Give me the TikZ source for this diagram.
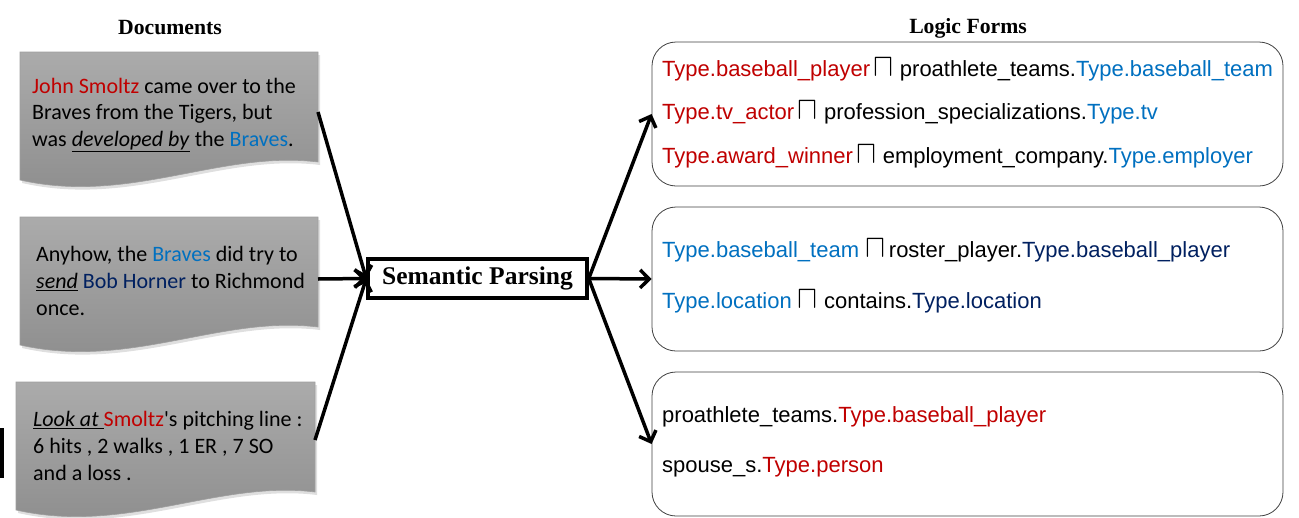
\documentclass[tikz,border=0pt]{standalone}
\usepackage{fontspec}
\usepackage{graphicx}
\setmainfont{Liberation Serif}
\newfontfamily\calfont{Carlito}
\newfontfamily\arifont{Liberation Sans}
\usetikzlibrary{arrows.meta,shadows}
\definecolor{tred}{HTML}{C00000}
\definecolor{tblue}{HTML}{0070C0}
\definecolor{tnavy}{HTML}{002060}
\definecolor{docTop}{HTML}{ABABAB}
\definecolor{docBot}{HTML}{8C8C8C}
\definecolor{frame}{HTML}{404040}

% document outline with a wavy lower edge: left x, right x, top y
\newcommand\docpath[3]{%
  \path[docbox] (#1,#3) -- (#2,#3) -- ({#2},{#3+110})
    .. controls ({#2-98},{#3+98}) and ({#1+110},{#3+153}) .. ({#1},{#3+128}) -- cycle;}
% intersection sign used in the logic forms
\newcommand\meet{\raisebox{0.5pt}{\scalebox{1.45}[1.55]{$\sqcap$}}}

\begin{document}
\begin{tikzpicture}[x=1pt,y=-1pt,
  title/.style={font=\fontsize{21.7}{26}\selectfont\bfseries, inner sep=0},
  doctext/.style={font=\calfont\fontsize{22}{26.6}\selectfont, align=left, anchor=west, inner sep=0},
  docbox/.style={top color=docTop, bottom color=docBot, draw=gray!75, line width=0.6pt,
    drop shadow={opacity=0.25, shadow xshift=2pt, shadow yshift=-3pt}},
  lfbox/.style={draw=frame, line width=0.8pt, rounded corners=24pt, fill=white,
    minimum width=631pt, minimum height=144pt, inner sep=0},
  lftext/.style={font=\arifont\fontsize{22}{26}\selectfont, anchor=west, inner sep=0},
  parse/.style={draw, line width=3.5pt, fill=white, minimum width=219pt, minimum height=39pt,
    inner sep=0, font=\fontsize{25.5}{30}\selectfont\bfseries},
  arr/.style={line width=3.5pt, -{Straight Barb[length=9pt,width=18pt]}}
]
\useasboundingbox (0,0) rectangle (1299,517);

% column headings
\node[title] (hdoc) at (170,28) {Documents};
\node[title] (hlf) at (968,28) {Logic Forms};

% small black bar on the left edge
\fill (0,428) rectangle (4,478);

% input documents
\docpath{20}{318}{52}
\docpath{20}{318}{217}
\docpath{16}{315}{382}

\node[doctext] (d1) at (32,115) {\textcolor{tred}{John Smoltz} came over to the\\
  Braves from the Tigers, but\\
  was \underline{\textit{developed by}} the \textcolor{tblue}{Braves}.};
\node[doctext] (d2) at (36,281) {Anyhow, the \textcolor{tblue}{Braves} did try to\\
  \underline{\textit{send}} \textcolor{tnavy}{Bob Horner} to Richmond\\
  once.};
\node[doctext] (d3) at (33,446) {\underline{\textit{Look at }}\textcolor{tred}{Smoltz}'s pitching line :\\
  6 hits , 2 walks , 1 ER , 7 SO\\
  and a loss .};

\coordinate (d1r) at (318,112);
\coordinate (d2r) at (318,279);
\coordinate (d3r) at (315,440);

% parser
\node[parse] (sp) at (477.5,278.5) {Semantic Parsing};

% logic form groups
\node[lfbox] (l1) at (967.5,114) {};
\node[lfbox] (l2) at (967.5,279) {};
\node[lfbox] (l3) at (967.5,444) {};

\node[lftext] (t11) at (662,70) {\textcolor{tred}{Type.baseball\_player}\,\meet\ proathlete\_teams.\textcolor{tblue}{Type.baseball\_team}};
\node[lftext] (t12) at (662,113) {\textcolor{tred}{Type.tv\_actor}\,\meet\ profession\_specializations.\textcolor{tblue}{Type.tv}};
\node[lftext] (t13) at (662,157) {\textcolor{tred}{Type.award\_winner}\,\meet\ employment\_company.\textcolor{tblue}{Type.employer}};

\node[lftext] (t21) at (662,251) {\textcolor{tblue}{Type.baseball\_team} \meet\,roster\_player.\textcolor{tnavy}{Type.baseball\_player}};
\node[lftext] (t22) at (662,302) {\textcolor{tblue}{Type.location} \meet\ contains.\textcolor{tnavy}{Type.location}};

\node[lftext] (t31) at (662,417) {proathlete\_teams.\textcolor{tred}{Type.baseball\_player}};
\node[lftext] (t32) at (662,467) {spouse\_s.\textcolor{tred}{Type.person}};

% connectors
\draw[arr] (d1r) -- (sp.west);
\draw[arr] (d2r) -- (sp.west);
\draw[arr] (d3r) -- (sp.west);
\draw[arr] (sp.east) -- (l1.west);
\draw[arr] (sp.east) -- (l2.west);
\draw[arr] (sp.east) -- (l3.west);
\end{tikzpicture}
\end{document}
